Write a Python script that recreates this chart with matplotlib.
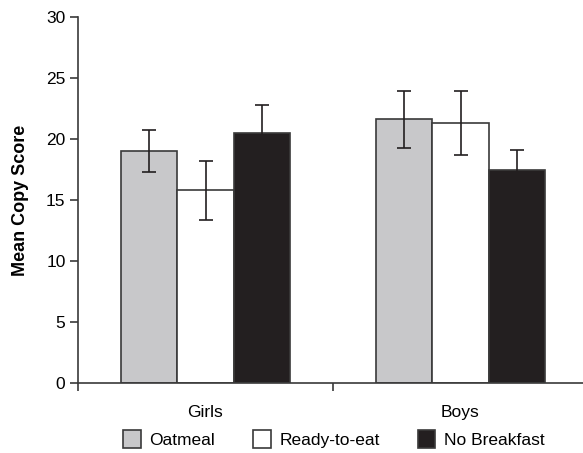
import matplotlib.pyplot as plt
import numpy as np
from matplotlib.patches import Patch

plt.rcParams['font.family'] = ['Liberation Sans', 'DejaVu Sans']

groups = ['Girls', 'Boys']
conditions = ['Oatmeal', 'Ready-to-eat', 'No Breakfast']
means = {
    'Oatmeal': [19.0, 21.6],
    'Ready-to-eat': [15.8, 21.3],
    'No Breakfast': [20.5, 17.5],
}
errors = {
    'Oatmeal': [1.7, 2.3],
    'Ready-to-eat': [2.4, 2.6],
    'No Breakfast': [2.3, 1.6],
}
colors = {'Oatmeal': '#c8c8ca', 'Ready-to-eat': '#ffffff', 'No Breakfast': '#231f20'}

fig = plt.figure(figsize=(5.83, 4.53), dpi=100)
ax = fig.add_axes([78 / 583, 1 - 383 / 453, 510 / 583, 366 / 453])

x = np.arange(len(groups))
w = 0.22
for i, c in enumerate(conditions):
    pos = x + (i - 1) * w
    ax.bar(pos, means[c], w, color=colors[c], edgecolor='#3a3a3a', linewidth=1.2, zorder=2)
    ax.errorbar(pos, means[c], yerr=errors[c], fmt='none', ecolor='#231f20',
                elinewidth=1.2, capsize=5, capthick=1.2, zorder=3)

ax.set_xlim(-0.5, 1.5)
ax.set_ylim(0, 30)
ax.set_yticks(range(0, 31, 5))
ax.set_xticks([-0.5, 0.5, 1.5])
ax.set_xticklabels([])
ax.set_xticks(x, minor=True)
ax.set_xticklabels(groups, minor=True)
ax.tick_params(axis='x', which='minor', length=0, pad=16, labelsize=12.5)
ax.tick_params(axis='x', which='major', length=6, direction='out', width=1.2, color='#3a3a3a')
ax.tick_params(axis='y', length=6, width=1.2, color='#3a3a3a', labelsize=12.5, pad=3)
for s in ['top', 'right']:
    ax.spines[s].set_visible(False)
for s in ['left', 'bottom']:
    ax.spines[s].set_linewidth(1.2)
    ax.spines[s].set_color('#3a3a3a')

ax.set_ylabel('Mean Copy Score', fontsize=13, fontweight='bold', labelpad=12)

handles = [Patch(facecolor=colors[c], edgecolor='#3a3a3a', linewidth=1.2, label=c) for c in conditions]
fig.legend(handles=handles, loc='center', bbox_to_anchor=(334 / 583, 1 - 439 / 453), ncol=3,
           frameon=False, fontsize=12.5, handlelength=1.0, handleheight=1.2,
           handletextpad=0.5, columnspacing=2.2)

fig.savefig('out.png', dpi=100)
